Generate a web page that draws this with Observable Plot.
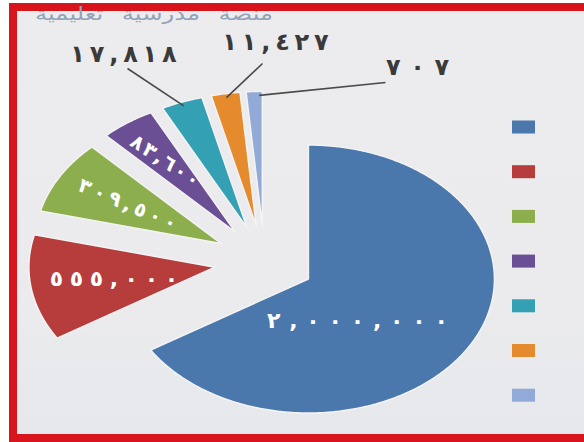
<!DOCTYPE html>
<html>
<head>
<meta charset="utf-8">
<script src="https://cdn.jsdelivr.net/npm/d3@7"></script>
<script src="https://cdn.jsdelivr.net/npm/@observablehq/plot@0.6"></script>
<style>
  html, body { margin: 0; padding: 0; background: #ffffff; }
  #wrap { position: relative; width: 584px; height: 442px; overflow: hidden; background: #ffffff; }
  #frame { position: absolute; left: 9px; top: 3px; width: 600px; height: 439px; box-sizing: border-box;
           border: 8px solid #d8151c; border-right: none; border-bottom-width: 8px;
           background: linear-gradient(180deg, #ececee 0%, #ebebed 70%, #e6e8ec 100%); }
  #title { position: absolute; left: 30px; top: 3px; width: 180px; direction: rtl; text-align: right;
           font-family: "DejaVu Sans", sans-serif; font-size: 18px; color: #93a3b8; word-spacing: 8px;
           white-space: nowrap; line-height: 22px; transform: scaleX(1.35); transform-origin: 0 0; }
  #chart { position: absolute; left: 0; top: 0; }
</style>
</head>
<body>
<div id="wrap">
  <div id="frame"></div>
  <div id="title">منصة مدرسية تعليمية</div>
  <div id="chart"></div>
</div>
<script>
// ---- data ----
const categories = ["أ", "ب", "ج", "د", "هـ", "و", "ز"];
const values = [2000000, 555000, 309500, 83600, 17818, 11427, 707];
const valueLabels = ["٢,٠٠٠,٠٠٠", "٥٥٥,٠٠٠", "٣٠٩,٥٠٠", "٨٣,٦٠٠", "١٧,٨١٨", "١١,٤٢٧", "٧٠٧"];
// angular width (degrees) each slice occupies in the picture
const shownAngle = [238, 46, 32, 17, 13, 9, 5];
const colors = ["#4a78ad", "#b63d3c", "#8cae4c", "#6a4f95", "#34a0b3", "#e58a2d", "#92aad7"];

// ---- layout ----
const W = 584, H = 442;
const CX = 264, CY = 261, RX = 186, RY = 134;  // pie centre and radii in pixels
const explode = 0.27;
const rad = d => d * Math.PI / 180;
const ux = px => (px - CX) / RX;
const uy = py => (CY - py) / RY;
// spread the glyphs apart (letter-spacing is ignored for Arabic script); keep them left-to-right
const spaced = (s, gap) => "\u202D" + Array.from(s).join(gap) + "\u202C";
const THIN = "\u2009", HAIR = "\u200A";

// slices
let acc = 0;
const slices = values.map((v, i) => {
  const a0 = acc, a1 = acc + shownAngle[i];
  acc = a1;
  const mid = (a0 + a1) / 2;
  const ox = explode * Math.sin(rad(mid)), oy = explode * Math.cos(rad(mid));
  return {i, cat: categories[i], value: v, label: valueLabels[i], a0, a1, mid, ox, oy};
});

const pts = [];
for (const s of slices) {
  pts.push({i: s.i, cat: s.cat, x: s.ox, y: s.oy});
  const n = Math.max(4, Math.ceil(s.a1 - s.a0) * 2);
  for (let k = 0; k <= n; k++) {
    const a = rad(s.a0 + (s.a1 - s.a0) * k / n);
    pts.push({i: s.i, cat: s.cat, x: s.ox + Math.sin(a), y: s.oy + Math.cos(a)});
  }
  pts.push({i: s.i, cat: s.cat, x: s.ox, y: s.oy});
}

// inside labels
const inside = [
  {i: 0, a: 140, r: 0.41, rot: 0, size: 22, gap: THIN + THIN},
  {i: 1, a: null, r: 0.55, rot: 0, size: 22, gap: THIN + HAIR},
  {i: 2, a: null, r: 0.58, rot: 22.7, size: 20, gap: THIN},
  {i: 3, a: null, r: 0.65, rot: 33.5, size: 20, gap: HAIR}
].map(o => {
  const s = slices[o.i];
  const a = rad(o.a == null ? s.mid : o.a);
  return {...o, text: spaced(s.label, o.gap), x: s.ox + o.r * Math.sin(a), y: s.oy + o.r * Math.cos(a)};
});

// outside labels with leader lines
const outside = [
  {i: 4, lx: 123, ly: 54, ex: 127, ey: 68, gap: THIN},
  {i: 5, lx: 275, ly: 42, ex: 262, ey: 63, gap: THIN},
  {i: 6, lx: 417, ly: 67, ex: 385, ey: 82, gap: THIN + THIN}
].map(o => {
  const s = slices[o.i];
  const ar = rad(o.i === 6 ? s.a1 - 1 : s.mid);
  return {...o, text: spaced(s.label, o.gap),
    x1: s.ox + 0.97 * Math.sin(ar), y1: s.oy + 0.97 * Math.cos(ar),
    x2: ux(o.ex), y2: uy(o.ey), tx: ux(o.lx), ty: uy(o.ly)};
});

// legend swatches
const legend = categories.map((c, i) => {
  const cy = 127 + 44.7 * i;
  return {i, cat: c, x1: ux(512), x2: ux(535), y1: uy(cy - 6.5), y2: uy(cy + 6.5)};
});

const plot = Plot.plot({
  width: W, height: H,
  marginTop: 0, marginRight: 0, marginBottom: 0, marginLeft: 0,
  x: {domain: [ux(0), ux(W)], axis: null},
  y: {domain: [uy(H), uy(0)], axis: null},
  style: {background: "transparent", overflow: "visible"},
  marks: [
    Plot.line(pts, {x: "x", y: "y", z: "i", fill: d => colors[d.i], stroke: "#f3f3f3", strokeWidth: 1.5, strokeLinejoin: "round", curve: "linear"}),
    Plot.rect(legend, {x1: "x1", x2: "x2", y1: "y1", y2: "y2", fill: d => colors[d.i]}),
    Plot.link(outside, {x1: "x1", y1: "y1", x2: "x2", y2: "y2", stroke: "#4a4a4a", strokeWidth: 1.6}),
    Plot.text(inside, {x: "x", y: "y", text: "text", rotate: "rot", fill: "#ffffff", fontSize: d => d.size,
      fontWeight: "bold", fontFamily: "DejaVu Sans"}),
    Plot.text(outside, {x: "tx", y: "ty", text: "text", fill: "#3a3a3a", fontSize: 24,
      fontWeight: "bold", fontFamily: "DejaVu Sans"})
  ]
});

document.getElementById("chart").appendChild(plot);
</script>
</body>
</html>
